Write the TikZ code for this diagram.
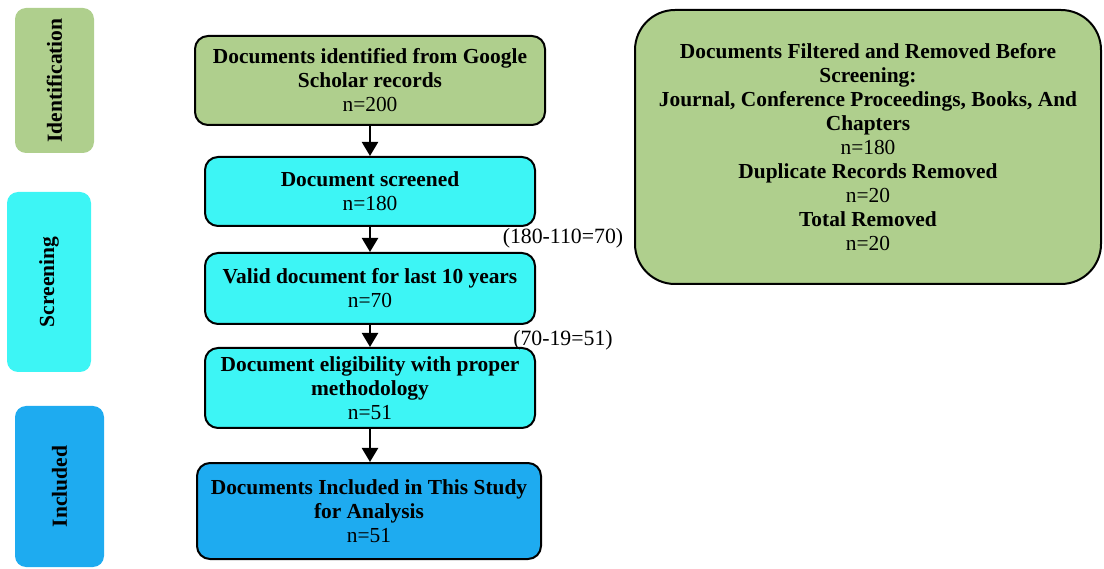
\documentclass[tikz,border=0pt]{standalone}
\usepackage{fontspec}
\setmainfont{Liberation Serif}
\usetikzlibrary{arrows.meta}
\definecolor{cgreen}{HTML}{AFCF8D}
\definecolor{ccyan}{HTML}{3DF5F5}
\definecolor{cblue}{HTML}{1EABF0}
\tikzset{
  flowbox/.style={draw=black, line width=2pt, rounded corners=13pt, align=center, inner sep=0pt,
    font=\fontsize{21.4}{24}\selectfont},
  sidebox/.style={rounded corners=11pt, inner sep=0pt},
  sidelabel/.style={rotate=90, font=\fontsize{21.5}{24}\selectfont\bfseries},
  flowarrow/.style={line width=2.2pt, -{Triangle[length=14pt,width=16pt]}},
  note/.style={font=\fontsize{21.8}{24}\selectfont, inner sep=0pt}
}
\begin{document}
\begin{tikzpicture}[x=1pt,y=-1pt]
\useasboundingbox (0,0) rectangle (1104,569);
% side boxes
\node[sidebox, fill=cgreen, minimum width=79pt, minimum height=145pt] (sid) at (54.5,80.5) {};
\node[sidelabel] (sidt) at (sid.center) {Identification};
\node[sidebox, fill=ccyan, minimum width=84pt, minimum height=180pt] (sscr) at (49,282) {};
\node[sidelabel] (sscrt) at (sscr.center) {Screening};
\node[sidebox, fill=cblue, minimum width=89pt, minimum height=161pt] (sinc) at (59.5,486.5) {};
\node[sidelabel] (sinct) at (sinc.center) {Included};
% flow boxes
\node[flowbox, fill=cgreen, minimum width=350pt, minimum height=89pt] (b1) at (370,80.5)
  {\textbf{Documents identified from Google}\\\textbf{Scholar records}\\n=200};
\node[flowbox, fill=ccyan, minimum width=330pt, minimum height=69pt] (b2) at (370,191.5)
  {\textbf{Document screened}\\n=180};
\node[flowbox, fill=ccyan, minimum width=330pt, minimum height=71pt] (b3) at (370,288.5)
  {\textbf{Valid document for last 10 years}\\n=70};
\node[flowbox, fill=ccyan, minimum width=330pt, minimum height=80pt] (b4) at (370,388)
  {\textbf{Document eligibility with proper}\\\textbf{methodology}\\n=51};
\node[flowbox, fill=cblue, minimum width=344pt, minimum height=96pt] (b5) at (369,511)
  {\textbf{Documents Included in This Study}\\\textbf{for Analysis}\\n=51};
% right box
\node[flowbox, fill=cgreen, rounded corners=40pt, minimum width=466pt, minimum height=274pt] (r) at (868,147)
  {\textbf{Documents Filtered and Removed Before}\\\textbf{Screening:}\\\textbf{Journal, Conference Proceedings, Books, And}\\\textbf{Chapters}\\n=180\\\textbf{Duplicate Records Removed}\\n=20\\\textbf{Total Removed}\\n=20};
% notes
\node[note] (n1) at (563,238) {(180-110=70)};
\node[note] (n2) at (563,340) {(70-19=51)};
% arrows
\draw[flowarrow] (b1.south) -- (b2.north);
\draw[flowarrow] (b2.south) -- (b3.north);
\draw[flowarrow] (b3.south) -- (b4.north);
\draw[flowarrow] (b4.south) -- (b4.south |- b5.north);
\end{tikzpicture}
\end{document}
